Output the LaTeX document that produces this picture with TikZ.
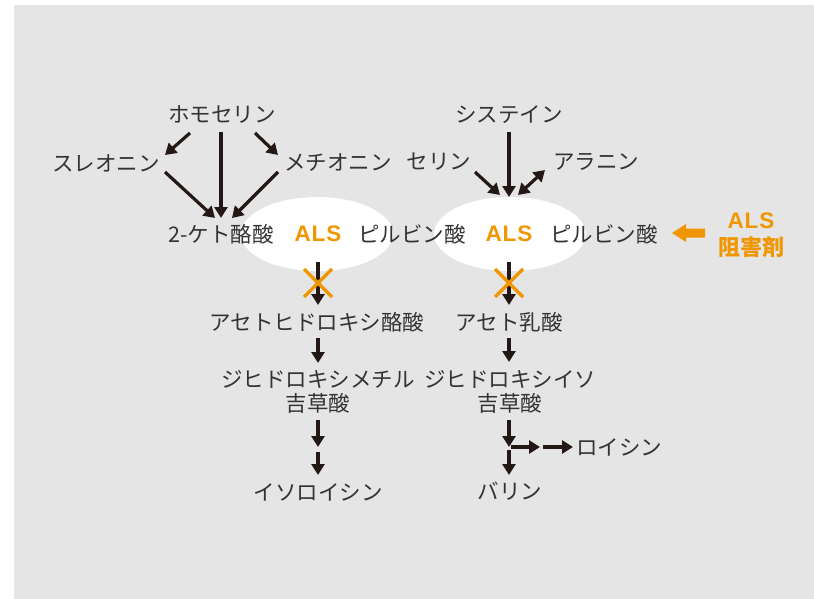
\documentclass[tikz,border=0pt]{standalone}
\usepackage{fontspec}
\setmainfont{Noto Sans CJK JP}
\newfontfamily\alsfont[LetterSpace=4]{Liberation Sans}
\usetikzlibrary{arrows.meta,shapes.geometric}
\definecolor{bg}{HTML}{E5E5E5}
\definecolor{txt}{HTML}{333333}
\definecolor{arr}{HTML}{231815}
\definecolor{org}{RGB}{240,150,0}
\tikzset{
  lbl/.style={inner sep=0pt, text=txt, font=\fontsize{21.5}{25}\selectfont, align=center},
  als/.style={inner sep=0pt, text=org, font=\alsfont\bfseries\fontsize{22.5}{24}\selectfont},
  flow/.style={draw=arr, line width=3.2pt, -{Triangle[length=11pt,width=13pt]}},
  dflow/.style={draw=arr, line width=3.2pt, {Triangle[length=11pt,width=13pt]}-{Triangle[length=11pt,width=13pt]}},
  cross/.style={draw=org, line width=3.2pt},
  blob/.style={ellipse, fill=white, minimum width=152pt, minimum height=74pt, inner sep=0pt},
}
\begin{document}
\begin{tikzpicture}[x=1pt,y=-1pt]
\useasboundingbox (0,0) rectangle (814,599);
\fill[bg] (14,5) rectangle (814,599);
% ellipses
\node[blob] (ell1) at (317,234) {};
\node[blob] (ell2) at (510,234) {};
% top left
\node[lbl] (homo) at (222,115) {ホモセリン};
\node[lbl] (threo) at (106,163) {スレオニン};
\node[lbl] (meth) at (338,163) {メチオニン};
\node[lbl] (keto) at (221,234) {2-ケト酪酸};
\node[als] (als1) at (318,234) {ALS};
\node[lbl] (pyr1) at (412,234) {ピルビン酸};
% top right
\node[lbl] (cys) at (509,115) {システイン};
\node[lbl] (ser) at (439,162) {セリン};
\node[lbl] (ala) at (596,162) {アラニン};
\node[als] (als2) at (509,234) {ALS};
\node[lbl] (pyr2) at (604,234) {ピルビン酸};
% inhibitor
\node[als] (inh1) at (751,221) {ALS};
\node[inner sep=0pt, text=org, font=\bfseries\fontsize{22}{25}\selectfont] (inh2) at (751,247) {阻害剤};
\coordinate (inhs) at (705,233);
\coordinate (inht) at (672,233);
\fill[org] (inht) -- ++(14,-9) -- ++(0,4.5) -- (inhs |- 0,228.5) -- (inhs |- 0,237.5) -- (686,237.5) -- ++(0,4.5) -- cycle;
% lower left
\node[lbl] (ahb) at (317,322) {アセトヒドロキシ酪酸};
\node[lbl] (dhmv) at (318,392) {ジヒドロキシメチル\\[-1pt]吉草酸};
\node[lbl] (ile) at (318,492) {イソロイシン};
% lower right
\node[lbl] (al) at (509,322) {アセト乳酸};
\node[lbl] (dhiv) at (510,392) {ジヒドロキシイソ\\[-1pt]吉草酸};
\node[lbl] (leu) at (619,447) {ロイシン};
\node[lbl] (val) at (510,491) {バリン};
% arrows top left
\draw[flow] ([shift={(-32,18)}]homo.center) -- ([shift={(59,-8)}]threo.center);
\draw[flow] ([shift={(-1,17)}]homo.center) -- ([shift={(0,-16)}]keto.center);
\draw[flow] ([shift={(33,18)}]homo.center) -- ([shift={(-60,-8)}]meth.center);
\draw[flow] ([shift={(59,9)}]threo.center) -- ([shift={(-6,-16)}]keto.center);
\draw[flow] ([shift={(-60,9)}]meth.center) -- ([shift={(11,-16)}]keto.center);
% arrows top right
\draw[flow] ([shift={(0,17)}]cys.center) -- ([shift={(0,-37)}]als2.center);
\draw[flow] ([shift={(36,10)}]ser.center) -- ([shift={(-9,-39)}]als2.center);
\draw[dflow] ([shift={(9,-39)}]als2.center) -- ([shift={(-51,8)}]ala.center);
% left column
\coordinate (x1) at (318,283);
\draw[flow] ([shift={(0,28)}]als1.center) -- ([shift={(1,-17)}]ahb.center);
\draw[cross] ([shift={(-14,-14)}]x1) -- ([shift={(14,14)}]x1);
\draw[cross] ([shift={(-14,14)}]x1) -- ([shift={(14,-14)}]x1);
\draw[flow] ([shift={(1,16)}]ahb.center) -- ([shift={(0,-29)}]dhmv.center);
\coordinate (m1) at (318,449.5);
\draw[flow] ([shift={(0,28)}]dhmv.center) -- ([shift={(0,-2.5)}]m1);
\draw[flow] ([shift={(0,2.5)}]m1) -- ([shift={(0,-17)}]ile.center);
% right column
\coordinate (x2) at (509,283);
\draw[flow] ([shift={(0,28)}]als2.center) -- ([shift={(0,-17)}]al.center);
\draw[cross] ([shift={(-14,-14)}]x2) -- ([shift={(14,14)}]x2);
\draw[cross] ([shift={(-14,14)}]x2) -- ([shift={(14,-14)}]x2);
\draw[flow] ([shift={(0,16)}]al.center) -- ([shift={(-1,-30)}]dhiv.center);
\coordinate (j) at (509,447);
\draw[flow] ([shift={(-1,28)}]dhiv.center) -- (j);
\coordinate (hm) at (541.5,447);
\draw[flow] ([shift={(2,0)}]j) -- ([shift={(-1.5,0)}]hm);
\draw[flow] ([shift={(1.5,0)}]hm) -- ([shift={(-46,0)}]leu.center);
\draw[flow] ([shift={(0,3)}]j) -- ([shift={(-1,-16)}]val.center);
\end{tikzpicture}
\end{document}
